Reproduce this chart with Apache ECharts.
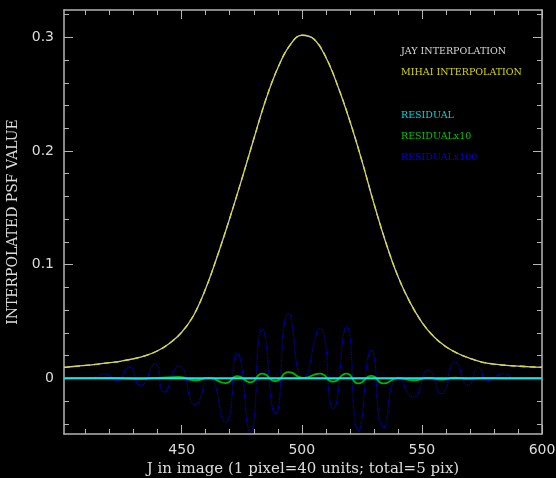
<!DOCTYPE html>
<html lang="en">
<head>
    <meta charset="UTF-8">
    <title>Interpolated PSF</title>
    <script src="https://cdn.jsdelivr.net/npm/echarts@6/dist/echarts.min.js"></script>
</head>
<body style="margin:0;background:#000;">
<div id="chart-container" style="width:556px;height:478px;"></div>
</body>
<script type="text/javascript">
    // PSF profile (J in image units)
    var psfJ = [401, 405, 410, 415, 420, 425, 430, 435, 440, 445, 450, 455, 460, 465, 470, 475, 480, 485, 490, 495,
        500, 505, 510, 515, 520, 525, 530, 535, 540, 545, 550, 555, 560, 565, 570, 575, 580, 585, 590, 595, 600];
    var jayPsf = [0.0097, 0.0104, 0.0113, 0.0124, 0.0137, 0.0152, 0.0172, 0.0200, 0.0242, 0.0308, 0.0405, 0.0555,
        0.0790, 0.1085, 0.1408, 0.1750, 0.2105, 0.2450, 0.2730, 0.2928, 0.3018, 0.2985, 0.2825, 0.2570, 0.2263,
        0.1915, 0.1539, 0.1193, 0.0897, 0.0670, 0.0493, 0.0365, 0.0277, 0.0218, 0.0175, 0.0143, 0.0125, 0.0114,
        0.0107, 0.0101, 0.0097];
    var mihaiPsf = [0.0097, 0.0104, 0.0113, 0.0124, 0.0137, 0.0152, 0.0173, 0.0200, 0.0242, 0.0309, 0.0405, 0.0556,
        0.0790, 0.1086, 0.1408, 0.1751, 0.2105, 0.2451, 0.2730, 0.2929, 0.3019, 0.2985, 0.2826, 0.2570, 0.2264,
        0.1915, 0.1540, 0.1193, 0.0898, 0.0670, 0.0493, 0.0366, 0.0277, 0.0218, 0.0175, 0.0143, 0.0125, 0.0114,
        0.0107, 0.0101, 0.0097];

    // residuals
    var residJ = [401, 450, 500, 550, 600];
    var residual = [0.0, 0.0001, 0.0, 0.0, 0.0];

    var resid10J = [401, 420, 430, 440, 448.8, 455.7, 461.3, 468.2, 473.1, 478.6, 483.5, 489, 494.5, 500.6, 507.5,
        513, 518.6, 523.5, 529, 534, 540.2, 546.4, 552.7, 558.2, 563.8, 569.3, 575, 585, 600];
    var resid10 = [0.0, 0.0003, -0.0005, 0.0003, 0.0012, -0.0018, 0.0003, -0.0042, 0.002, -0.0035, 0.0042, -0.0025,
        0.0055, 0.0002, 0.0042, -0.003, 0.0042, -0.0045, 0.0022, -0.0045, 0.0001, -0.0018, 0.0004, -0.0012, 0.0006,
        -0.0003, 0.0002, 0.0, 0.0];

    var resid100J = [401, 405, 410, 414, 418, 423, 428, 432.8, 439, 442.5, 448.8, 455.7, 461.3, 468.2, 473.1, 478.6,
        483.5, 489, 494.5, 500.6, 507.5, 513, 518.6, 523.5, 529, 534, 540.2, 546.4, 552.7, 558.2, 563.8, 569.3, 573.5,
        577.5, 583.9, 589, 594, 600];
    var resid100 = [0.0, 0.0005, -0.0005, 0.001, 0.004, -0.002, 0.010, -0.0062, 0.013, -0.012, 0.0106, -0.023, 0.0005,
        -0.0385, 0.0217, -0.0473, 0.0438, -0.031, 0.057, 0.0, 0.0438, -0.0267, 0.0452, -0.0458, 0.0247, -0.0429,
        0.001, -0.0165, 0.007, -0.0135, 0.0144, -0.0062, 0.0094, -0.002, 0.004, -0.0005, 0.0005, 0.0];

    // ticks
    var xMajor = [450, 500, 550, 600];
    var xMinor = [410, 420, 430, 440, 460, 470, 480, 490, 510, 520, 530, 540, 560, 570, 580, 590];
    var yMajor = [0, 0.1, 0.2, 0.3];
    var yMinor = [-0.04, -0.02, 0.02, 0.04, 0.06, 0.08, 0.12, 0.14, 0.16, 0.18, 0.22, 0.24, 0.26, 0.28, 0.32];

    function zip(xs, ys) {
        return xs.map(function (x, i) { return [x, ys[i]]; });
    }

    var boxColor = '#b4b4b4';
    var textColor = '#dcdcdc';
    var xMin = 401, xMax = 600, yMin = -0.049, yMax = 0.324;

    function xAx(pos, ticks, len, labels, line) {
        return {
            type: 'value', position: pos, min: xMin, max: xMax,
            axisLine: {show: line, onZero: false, lineStyle: {color: boxColor, width: 1.5}},
            axisTick: {show: true, inside: true, length: len, customValues: ticks, lineStyle: {color: boxColor}},
            axisLabel: labels ? {
                customValues: xMajor, color: textColor, margin: 9,
                fontFamily: 'DejaVu Sans', fontSize: 14
            } : {show: false},
            splitLine: {show: false}
        };
    }

    function yAx(pos, ticks, len, labels, line) {
        return {
            type: 'value', position: pos, min: yMin, max: yMax,
            axisLine: {show: line, onZero: false, lineStyle: {color: boxColor, width: 1.5}},
            axisTick: {show: true, inside: true, length: len, customValues: ticks, lineStyle: {color: boxColor}},
            axisLabel: labels ? {
                customValues: yMajor, color: textColor, margin: 10,
                fontFamily: 'DejaVu Sans', fontSize: 14,
                formatter: function (v) { return v === 0 ? '0' : v.toFixed(1); }
            } : {show: false},
            splitLine: {show: false}
        };
    }

    var container = document.getElementById('chart-container');
    var myChart = echarts.init(container, null, {renderer: 'canvas'});

    var xAxes = [
        xAx('bottom', xMajor, 9, true, true),
        xAx('bottom', xMinor, 5, false, false),
        xAx('top', xMajor, 9, false, true),
        xAx('top', xMinor, 5, false, false)
    ];
    xAxes[0].name = 'J in image (1 pixel=40 units; total=5 pix)';
    xAxes[0].nameLocation = 'middle';
    xAxes[0].nameGap = 25;
    xAxes[0].nameTextStyle = {color: textColor, fontFamily: 'DejaVu Serif', fontSize: 15};

    var yAxes = [
        yAx('left', yMajor, 9, true, true),
        yAx('left', yMinor, 5, false, false),
        yAx('right', yMajor, 9, false, true),
        yAx('right', yMinor, 5, false, false)
    ];
    yAxes[0].name = 'INTERPOLATED PSF VALUE';
    yAxes[0].nameLocation = 'middle';
    yAxes[0].nameGap = 36;
    yAxes[0].nameTextStyle = {color: textColor, fontFamily: 'DejaVu Serif', fontSize: 14};

    var legendText = {fontFamily: 'DejaVu Serif', fontSize: 9.5, lineHeight: 12};

    var option = {
        backgroundColor: '#000',
        animation: false,
        grid: {left: 64, right: 14, top: 10, bottom: 44, outerBoundsMode: 'none'},
        legend: [
            {
                orient: 'vertical', left: 395, top: 46, padding: 0, itemGap: 9, itemWidth: 0, itemHeight: 0,
                selectedMode: false, textStyle: legendText,
                data: [
                    {name: 'JAY INTERPOLATION', textStyle: {color: '#d8d8d8'}},
                    {name: 'MIHAI INTERPOLATION', textStyle: {color: '#d8d800'}}
                ]
            },
            {
                orient: 'vertical', left: 395, top: 110, padding: 0, itemGap: 9, itemWidth: 0, itemHeight: 0,
                selectedMode: false, textStyle: legendText,
                data: [
                    {name: 'RESIDUAL', textStyle: {color: '#00d8d8'}},
                    {name: 'RESIDUALx10', textStyle: {color: '#00c800'}},
                    {name: 'RESIDUALx100', textStyle: {color: '#0000e6'}}
                ]
            }
        ],
        xAxis: xAxes,
        yAxis: yAxes,
        series: [
            {
                name: 'RESIDUALx100', type: 'line', data: zip(resid100J, resid100), smooth: 0.6, showSymbol: false,
                lineStyle: {color: '#0000d0', width: 1.2, type: 'dotted'}, itemStyle: {color: '#0000d0'}
            },
            {
                name: 'RESIDUALx10', type: 'line', data: zip(resid10J, resid10), smooth: 0.6, showSymbol: false,
                lineStyle: {color: '#00b400', width: 1.8}, itemStyle: {color: '#00b400'}
            },
            {
                name: 'RESIDUAL', type: 'line', data: zip(residJ, residual), smooth: true, showSymbol: false,
                lineStyle: {color: '#00f0f0', width: 2}, itemStyle: {color: '#00f0f0'}
            },
            {
                name: 'JAY INTERPOLATION', type: 'line', data: zip(psfJ, jayPsf), smooth: 0.4, showSymbol: false,
                lineStyle: {color: '#c8c8c8', width: 1.3}, itemStyle: {color: '#c8c8c8'}
            },
            {
                name: 'MIHAI INTERPOLATION', type: 'line', data: zip(psfJ, mihaiPsf), smooth: 0.4, showSymbol: false,
                lineStyle: {color: '#e0e000', width: 1.3, type: [6, 4]}, itemStyle: {color: '#e0e000'}
            }
        ]
    };

    myChart.setOption(option);
</script>
</html>
